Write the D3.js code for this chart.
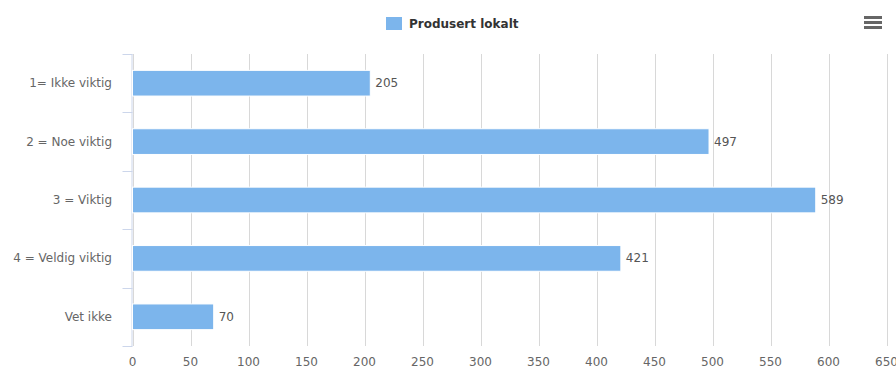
<!DOCTYPE html>
<html>
<head>
<meta charset="utf-8">
<script src="https://cdn.jsdelivr.net/npm/d3@7"></script>
<style>
  body { margin: 0; background: #fff; }
  text { font-family: "Lucida Grande", "DejaVu Sans", sans-serif; }
</style>
</head>
<body>
<script>
// data
const categories = ['1= Ikke viktig', '2 = Noe viktig', '3 = Viktig', '4 = Veldig viktig', 'Vet ikke'];
const values = [205, 497, 589, 421, 70];
const seriesName = 'Produsert lokalt';
const xTicks = d3.range(0, 651, 50);

const width = 896;
const height = 370;
const margin = {left: 132.5, top: 54, right: 10, bottom: 24};

var svg = d3.select('body')
    .append('svg')
    .attr('width', width)
    .attr('height', height);

var x = d3.scaleLinear()
    .domain([0, 650])
    .range([margin.left, 886.5]);

var y = d3.scaleBand()
    .domain(categories)
    .range([margin.top, 346])
    .paddingInner(0.56)
    .paddingOuter(0.28);

// vertical grid lines
svg.append('g')
    .selectAll('line')
    .data(xTicks)
    .join('line')
    .attr('x1', d => Math.round(x(d)) + 0.5)
    .attr('x2', d => Math.round(x(d)) + 0.5)
    .attr('y1', margin.top)
    .attr('y2', 346)
    .attr('stroke', '#d8d8d8')
    .attr('stroke-width', 1);

// x tick labels
svg.append('g')
    .selectAll('text')
    .data(xTicks)
    .join('text')
    .attr('x', d => x(d))
    .attr('y', 366)
    .attr('text-anchor', 'middle')
    .attr('font-size', 12)
    .attr('fill', '#666')
    .text(d => d);

// category axis (left)
var band = (346 - margin.top) / categories.length;
svg.append('line')
    .attr('x1', margin.left - 0.5).attr('x2', margin.left - 0.5)
    .attr('y1', margin.top).attr('y2', 346)
    .attr('stroke', '#ccd6eb');

svg.append('g')
    .selectAll('line')
    .data(d3.range(categories.length + 1))
    .join('line')
    .attr('x1', margin.left - 10)
    .attr('x2', margin.left)
    .attr('y1', i => Math.round(margin.top + i * band) + 0.5)
    .attr('y2', i => Math.round(margin.top + i * band) + 0.5)
    .attr('stroke', '#ccd6eb');

svg.append('g')
    .selectAll('text')
    .data(categories)
    .join('text')
    .attr('x', 112)
    .attr('y', d => y(d) + y.bandwidth() / 2 + 4)
    .attr('text-anchor', 'end')
    .attr('font-size', 12)
    .attr('fill', '#666')
    .text(d => d);

// bars
svg.append('g')
    .selectAll('rect')
    .data(values)
    .join('rect')
    .attr('x', x(0))
    .attr('y', (d, i) => y(categories[i]))
    .attr('width', d => x(d) - x(0))
    .attr('height', y.bandwidth())
    .attr('fill', '#7cb5ec')
    .attr('stroke', '#fff')
    .attr('stroke-width', 1);

// data labels
svg.append('g')
    .selectAll('text')
    .data(values)
    .join('text')
    .attr('x', d => x(d) + 5)
    .attr('y', (d, i) => y(categories[i]) + y.bandwidth() / 2 + 4)
    .attr('font-size', 12)
    .attr('fill', '#555')
    .text(d => d);

// legend
svg.append('rect')
    .attr('x', 386).attr('y', 17)
    .attr('width', 16).attr('height', 13)
    .attr('fill', '#7cb5ec');
svg.append('text')
    .attr('x', 409).attr('y', 28)
    .attr('font-size', 12)
    .attr('font-weight', 'bold')
    .attr('fill', '#333')
    .text(seriesName);

// export menu icon
svg.append('g')
    .selectAll('rect')
    .data([0, 1, 2])
    .join('rect')
    .attr('x', 864)
    .attr('y', i => 16 + i * 5)
    .attr('width', 18)
    .attr('height', 3)
    .attr('fill', '#666');
</script>
</body>
</html>
